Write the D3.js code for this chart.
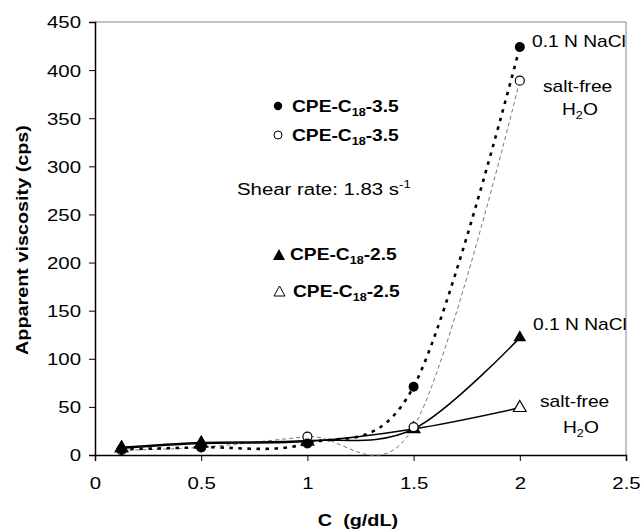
<!DOCTYPE html>
<html>
<head>
<meta charset="utf-8">
<script src="https://cdn.jsdelivr.net/npm/d3@7"></script>
<style>
  html, body { margin: 0; padding: 0; background: #fff; }
  svg { display: block; }
  text { font-family: "Liberation Sans", Arial, sans-serif; fill: #000; }
</style>
</head>
<body>
<script>
// ---- data ----
const conc = [0.125, 0.5, 1, 1.5, 2];
const viscNaCl35  = [6, 8, 12, 71, 424];   // filled circles, 0.1 N NaCl
const viscWater35 = [5, 8, 19, 29, 389];   // open circles, salt-free H2O
const viscNaCl25  = [8, 13, 15, 27, 122];  // filled triangles, 0.1 N NaCl
const viscWater25 = [7, 12, 14, 27, 49];   // open triangles, salt-free H2O
const xTicks = [0, 0.5, 1, 1.5, 2, 2.5];
const yTicks = [0, 50, 100, 150, 200, 250, 300, 350, 400, 450];

const W = 642, H = 530;
const pLeft = 95, pRight = 626, pTop = 22, pBottom = 455;
const SX = 1.2; // horizontal glyph stretch of the original

const svg = d3.select("body").append("svg").attr("width", W).attr("height", H);

const x = d3.scaleLinear().domain([0, 2.5]).range([pLeft, pRight]);
const y = d3.scaleLinear().domain([0, 450]).range([pBottom, pTop]);

// frame (top / right)
svg.append("path")
  .attr("d", `M${pLeft},${pTop}H${pRight}V${pBottom}`)
  .attr("fill", "none").attr("stroke", "#888").attr("stroke-width", 1);

// axes
const gx = svg.append("g").attr("transform", `translate(0,${pBottom})`)
  .call(d3.axisBottom(x).tickValues(xTicks).tickSize(6).tickPadding(0).tickFormat(d => d));
gx.selectAll("text").attr("y", null).attr("dy", null)
  .attr("transform", `translate(0,34) scale(${SX},1)`)
  .style("font-size", "17px").style("font-family", "Liberation Sans, Arial, sans-serif");
const gy = svg.append("g").attr("transform", `translate(${pLeft},0)`)
  .call(d3.axisLeft(y).tickValues(yTicks).tickSize(6).tickFormat(d => d));
gy.selectAll("text").attr("x", null).attr("dy", "0.35em")
  .attr("transform", `translate(-14,0) scale(${SX},1)`)
  .style("font-size", "17px").style("font-family", "Liberation Sans, Arial, sans-serif");
svg.selectAll(".domain").attr("stroke", "#000").attr("stroke-width", 1.5);
svg.selectAll(".tick line").attr("stroke", "#000").attr("stroke-width", 1);

// axis titles
svg.append("text")
  .attr("transform", `translate(358,526) scale(${SX},1)`)
  .attr("text-anchor", "middle").style("font-size", "16.5px").style("font-weight", "bold")
  .attr("xml:space", "preserve").text("C  (g/dL)");
svg.append("text")
  .attr("transform", `translate(28,240) rotate(-90) scale(${SX},1)`)
  .attr("text-anchor", "middle").style("font-size", "16.5px").style("font-weight", "bold")
  .text("Apparent viscosity (cps)");

// lines
const pts = vals => conc.map((c, i) => [c, vals[i]]);
const line = d3.line().x(d => x(d[0])).y(d => y(d[1])).curve(d3.curveCardinal.tension(0));
const plot = svg.append("g");
plot.append("path").datum(pts(viscWater35)).attr("d", line)
  .attr("fill", "none").attr("stroke", "#777").attr("stroke-width", 1).attr("stroke-dasharray", "4,3");
plot.append("path").datum(pts(viscNaCl35)).attr("d", line)
  .attr("fill", "none").attr("stroke", "#000").attr("stroke-width", 2.6).attr("stroke-dasharray", "3.5,5.5");
plot.append("path").datum(pts(viscWater25)).attr("d", line)
  .attr("fill", "none").attr("stroke", "#000").attr("stroke-width", 1.5);
plot.append("path").datum(pts(viscNaCl25)).attr("d", line)
  .attr("fill", "none").attr("stroke", "#000").attr("stroke-width", 1.5);

// markers
const tri = d3.symbol().type(d3.symbolTriangle).size(70);
plot.selectAll(".tw").data(pts(viscWater25)).enter().append("path")
  .attr("d", tri).attr("transform", d => `translate(${x(d[0])},${y(d[1])})`)
  .attr("fill", "#fff").attr("stroke", "#000").attr("stroke-width", 1.2);
plot.selectAll(".tn").data(pts(viscNaCl25)).enter().append("path")
  .attr("d", tri).attr("transform", d => `translate(${x(d[0])},${y(d[1])})`)
  .attr("fill", "#000");
plot.selectAll(".cw").data(pts(viscWater35)).enter().append("circle")
  .attr("cx", d => x(d[0])).attr("cy", d => y(d[1])).attr("r", 4.5)
  .attr("fill", "#fff").attr("stroke", "#000").attr("stroke-width", 1.2);
plot.selectAll(".cn").data(pts(viscNaCl35)).enter().append("circle")
  .attr("cx", d => x(d[0])).attr("cy", d => y(d[1])).attr("r", 5)
  .attr("fill", "#000");

// in-plot legend
function legendLabel(xp, yp, grade) {
  const t = svg.append("text").attr("transform", `translate(${xp},${yp}) scale(${SX},1)`)
    .style("font-size", "16px").style("font-weight", "bold");
  t.append("tspan").text("CPE-C");
  t.append("tspan").attr("dy", 4).style("font-size", "10.5px").text("18");
  t.append("tspan").attr("dy", -4).text("-" + grade);
}
svg.append("circle").attr("cx", 278).attr("cy", 106).attr("r", 4.2).attr("fill", "#000");
legendLabel(292, 112, "3.5");
svg.append("circle").attr("cx", 278).attr("cy", 135).attr("r", 4).attr("fill", "#fff")
  .attr("stroke", "#000").attr("stroke-width", 1);
legendLabel(292, 141, "3.5");
svg.append("path").attr("d", "M273,260L285,260L279,249Z").attr("fill", "#000");
legendLabel(290, 260, "2.5");
svg.append("path").attr("d", "M274,296L285,296L279.5,286Z").attr("fill", "#fff")
  .attr("stroke", "#000").attr("stroke-width", 1);
legendLabel(293, 297, "2.5");

const sh = svg.append("text").attr("transform", `translate(237,195) scale(${SX},1)`)
  .style("font-size", "17px");
sh.append("tspan").text("Shear rate: 1.83 s");
sh.append("tspan").attr("dy", -7).style("font-size", "11px").text("-1");

// series annotations
function plain(xp, yp, txt) {
  return svg.append("text").attr("transform", `translate(${xp},${yp}) scale(${SX},1)`)
    .style("font-size", "16px").text(txt);
}
function h2o(xp, yp) {
  const t = svg.append("text").attr("transform", `translate(${xp},${yp}) scale(${SX},1)`)
    .style("font-size", "16px");
  t.append("tspan").text("H");
  t.append("tspan").attr("dy", 4).style("font-size", "10.5px").text("2");
  t.append("tspan").attr("dy", -4).text("O");
}
plain(532, 47, "0.1 N NaCl");
plain(543, 92, "salt-free");
h2o(562, 115);
plain(533, 330, "0.1 N NaCl");
plain(540, 407, "salt-free");
h2o(563, 433);
</script>
</body>
</html>
